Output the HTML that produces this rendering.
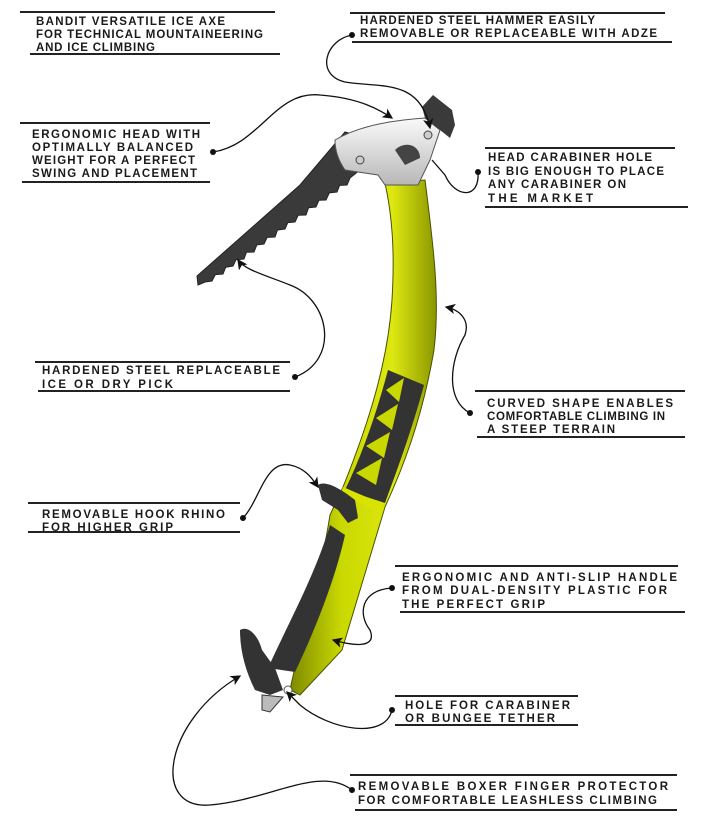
<!DOCTYPE html>
<html><head><meta charset="utf-8"><style>
html,body{margin:0;padding:0;background:#fff;}
svg{display:block;}
text{font-family:"Liberation Sans",sans-serif;font-size:11.5px;font-weight:bold;fill:#1a1a1a;}
.r{stroke:#222;stroke-width:2;}
.c{fill:none;stroke:#111;stroke-width:1.3;}
</style></head><body>
<svg width="722" height="819" viewBox="0 0 722 819" xmlns="http://www.w3.org/2000/svg">
<defs>
<linearGradient id="y" x1="0" y1="0" x2="1" y2="0">
<stop offset="0" stop-color="#7d8a00"/><stop offset="0.35" stop-color="#c9d800"/><stop offset="0.7" stop-color="#dde810"/><stop offset="1" stop-color="#8a9600"/>
</linearGradient>
<linearGradient id="s" x1="0" y1="0" x2="0" y2="1">
<stop offset="0" stop-color="#fafafa"/><stop offset="1" stop-color="#b8b8b8"/>
</linearGradient>
<marker id="a" markerWidth="8" markerHeight="8" refX="7" refY="4" orient="auto"><path d="M0,0 L8,4 L0,8 L2,4 z" fill="#111"/></marker>
</defs>

<g class="r">
<line x1="20" y1="12" x2="275" y2="12"/><line x1="30" y1="54" x2="280" y2="54"/>
<line x1="350" y1="13" x2="665" y2="13"/><line x1="352" y1="42" x2="672" y2="42"/>
<line x1="20" y1="123" x2="210" y2="123"/><line x1="22" y1="182" x2="210" y2="182"/>
<line x1="485" y1="148" x2="675" y2="148"/><line x1="485" y1="207" x2="688" y2="207"/>
<line x1="35" y1="362" x2="290" y2="362"/><line x1="38" y1="391" x2="290" y2="391"/>
<line x1="475" y1="391" x2="685" y2="391"/><line x1="477" y1="437" x2="685" y2="437"/>
<line x1="28" y1="503" x2="240" y2="503"/><line x1="28" y1="532" x2="240" y2="532"/>
<line x1="395" y1="566" x2="678" y2="566"/><line x1="400" y1="612" x2="685" y2="612"/>
<line x1="395" y1="696" x2="578" y2="696"/><line x1="395" y1="725" x2="578" y2="725"/>
<line x1="350" y1="775" x2="677" y2="775"/><line x1="355" y1="810" x2="677" y2="810"/>
</g>

<text x="36" y="25" textLength="189">BANDIT VERSATILE ICE AXE</text>
<text x="36" y="38" textLength="227">FOR TECHNICAL MOUNTAINEERING</text>
<text x="36" y="51" textLength="119">AND ICE CLIMBING</text>
<text x="360" y="24" textLength="235">HARDENED STEEL HAMMER EASILY</text>
<text x="360" y="37" textLength="297">REMOVABLE OR REPLACEABLE WITH ADZE</text>
<text x="32" y="138" textLength="168">ERGONOMIC HEAD WITH</text>
<text x="32" y="151" textLength="161">OPTIMALLY BALANCED</text>
<text x="32" y="164" textLength="163">WEIGHT FOR A PERFECT</text>
<text x="32" y="177" textLength="165">SWING AND PLACEMENT</text>
<text x="488" y="161" textLength="164">HEAD CARABINER HOLE</text>
<text x="488" y="175" textLength="176">IS BIG ENOUGH TO PLACE</text>
<text x="488" y="188" textLength="138">ANY CARABINER ON</text>
<text x="488" y="202" textLength="105">THE MARKET</text>
<text x="42" y="374" textLength="238">HARDENED STEEL REPLACEABLE</text>
<text x="42" y="388" textLength="131">ICE OR DRY PICK</text>
<text x="487" y="407" textLength="186">CURVED SHAPE ENABLES</text>
<text x="487" y="420" textLength="178">COMFORTABLE CLIMBING IN</text>
<text x="487" y="433" textLength="128">A STEEP TERRAIN</text>
<text x="42" y="518" textLength="183">REMOVABLE HOOK RHINO</text>
<text x="42" y="531" textLength="131">FOR HIGHER GRIP</text>
<text x="402" y="581" textLength="275">ERGONOMIC AND ANTI-SLIP HANDLE</text>
<text x="402" y="594" textLength="265">FROM DUAL-DENSITY PLASTIC FOR</text>
<text x="402" y="608" textLength="143">THE PERFECT GRIP</text>
<text x="405" y="709" textLength="165">HOLE FOR CARABINER</text>
<text x="405" y="722" textLength="150">OR BUNGEE TETHER</text>
<text x="358" y="790" textLength="310">REMOVABLE BOXER FINGER PROTECTOR</text>
<text x="358" y="804" textLength="299">FOR COMFORTABLE LEASHLESS CLIMBING</text>

<!-- pick -->
<path d="M197,276 L300,185 L345,132 L372,140 L360,170 L350,178 L347,185 L339.6,185.4 L337,192 L329.3,192.9 L326,200 L318.9,200.3 L316,207 L308.6,207.7 L306,215 L298.2,215.2 L295,222 L287.8,222.6 L285,229 L277.5,230 L275,237 L267.1,237.4 L264,244 L256.8,244.9 L254,252 L246.4,252.3 L244,259 L236,259.7 L233,266 L225.7,267.2 L223,274 L215.3,274.6 L212,281 L205,282 L198,285 Z" fill="#3a3a3a" stroke="#222" stroke-width="1"/>
<!-- shaft -->
<path d="M385,183 L425,180 C434,250 440,300 434,350 C422,420 402,470 385,507 L342,650 L300,695 L290,690 C300,640 320,580 330,515 L343,487 C370,420 388,360 392,300 C395,250 392,215 385,183 Z" fill="url(#y)" stroke="#4a5200" stroke-width="1"/>
<path d="M388,370 L424,385 C412,430 397,470 385,503 L345,490 C362,455 376,415 388,370 Z" fill="#333"/>
<path d="M386,390 L404,378 L399,402 Z M376,418 L398,404 L392,430 Z M366,446 L390,432 L384,458 Z M356,473 L382,458 L376,485 Z" fill="#c9d800"/>
<path d="M343,487 L385,505 L383,512 L340,495 Z" fill="#d8e400"/>
<path d="M330,525 L345,535 C335,580 315,630 295,672 L268,668 C290,620 315,575 330,525 Z" fill="#333"/>
<path d="M318,485 C325,480 340,488 355,500 L358,518 L348,523 L338,510 L322,500 Z" fill="#333"/>
<path d="M240,630 C248,625 258,635 262,650 L275,668 L283,690 L270,695 L255,690 C245,670 240,650 240,630 Z" fill="#333"/>
<path d="M262,695 L283,697 L270,712 L262,710 Z" fill="#bbb" stroke="#333" stroke-width="1"/>
<circle cx="288" cy="690" r="4" fill="#fff" stroke="#555"/>
<!-- head -->
<path d="M335,140 C360,125 395,120 425,118 L440,130 L430,160 L418,185 L385,185 L378,175 L345,170 C338,160 335,150 335,140 Z" fill="url(#s)" stroke="#555" stroke-width="1"/>
<path d="M395,150 C405,140 420,145 420,158 L405,165 Z" fill="#444"/>
<circle cx="360" cy="160" r="4" fill="#ccc" stroke="#444"/>
<circle cx="428" cy="135" r="4" fill="#ccc" stroke="#444"/>
<path d="M422,107 L433,95 L452,110 L455,125 L450,138 L440,130 L425,118 Z" fill="#3a3a3a"/>

<g class="c">
<path d="M352,35 C325,40 315,75 345,82 C380,88 420,78 430,128" marker-end="url(#a)"/>
<path d="M213,152 C260,145 275,90 320,95 C360,98 380,110 392,118" marker-end="url(#a)"/>
<path d="M478,172 C480,200 455,198 445,175 L432,160"/>
<path d="M295,377 C340,360 330,300 290,285 C265,275 245,270 238,260" marker-end="url(#a)"/>
<path d="M470,413 C445,400 450,360 465,335 C470,320 460,310 446,307" marker-end="url(#a)"/>
<path d="M243,518 C260,500 265,460 290,465 C305,468 312,478 318,487" marker-end="url(#a)"/>
<path d="M392,588 C360,590 358,615 370,630 C378,650 350,645 333,640" marker-end="url(#a)"/>
<path d="M392,710 C385,740 330,730 300,705 L287,692" marker-end="url(#a)"/>
<path d="M352,790 C320,765 270,800 210,805 C150,810 165,720 240,676" marker-end="url(#a)"/>
</g>
<g fill="#111">
<circle cx="352" cy="35" r="3"/><circle cx="213" cy="152" r="3"/><circle cx="478" cy="172" r="3"/>
<circle cx="295" cy="377" r="3"/><circle cx="470" cy="413" r="3"/><circle cx="243" cy="518" r="3"/>
<circle cx="392" cy="588" r="3"/><circle cx="392" cy="710" r="3"/><circle cx="352" cy="790" r="3"/>
</g>
</svg>
</body></html>
